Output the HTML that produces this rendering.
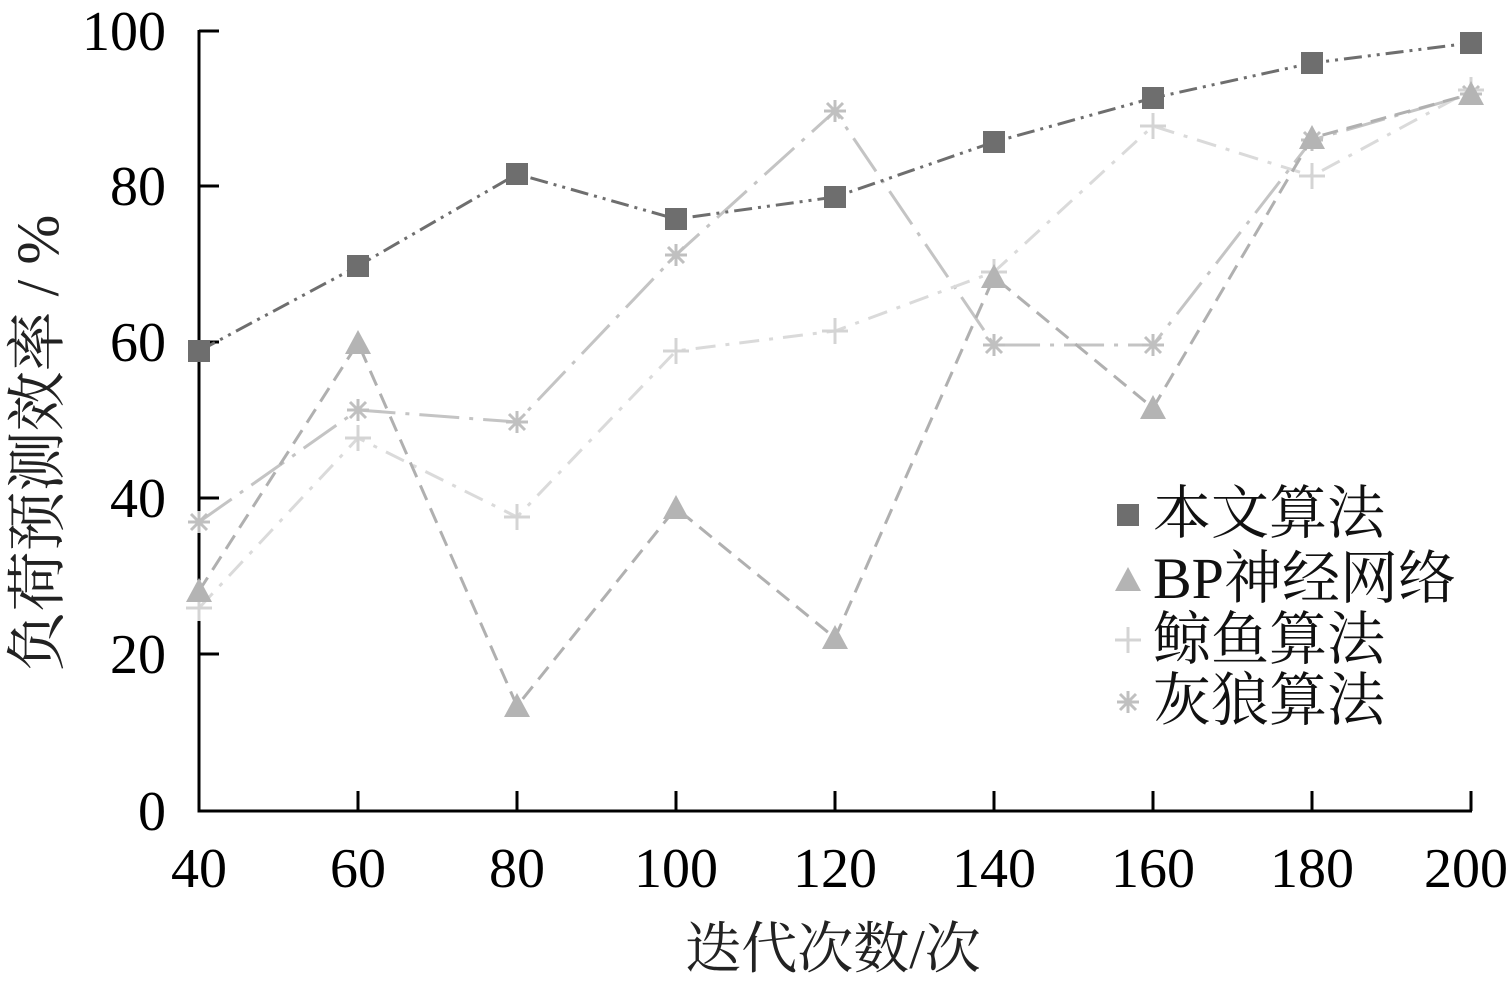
<!DOCTYPE html>
<html><head><meta charset="utf-8"><style>body{margin:0;background:#fff}</style></head><body>
<svg width="1512" height="989" xmlns="http://www.w3.org/2000/svg" font-family="'Liberation Serif','Noto Serif CJK SC',serif">
<defs>
<g id="s"><path d="M-11,0h22M0,-11v22M-8,-8l16,16M-8,8l16,-16"/></g>
<g id="p"><path d="M-13,0h26M0,-13v26"/></g>
<g id="t"><path d="M0,-13 L13,11 H-13Z"/></g>
<g id="q"><rect x="-11" y="-11" width="22" height="22"/></g>
</defs>
<rect width="1512" height="989" fill="#fff"/>
<g stroke="#000" stroke-width="3" fill="none">
<path d="M199,30 V811 H1472"/>
<path d="M199,31 h20 M199,186 h20 M199,342 h20 M199,498 h20 M199,654 h20"/>
<path d="M358,811 v-20 M517,811 v-20 M676,811 v-20 M835,811 v-20 M994,811 v-20 M1153,811 v-20 M1312,811 v-20 M1471,811 v-20"/>
</g>
<g font-size="56" text-anchor="end">
<text x="166" y="50">100</text><text x="166" y="205">80</text><text x="166" y="361">60</text><text x="166" y="517">40</text><text x="166" y="673">20</text><text x="166" y="830">0</text>
</g>
<g font-size="56" text-anchor="middle">
<text x="199" y="887">40</text><text x="358" y="887">60</text><text x="517" y="887">80</text><text x="676" y="887">100</text><text x="835" y="887">120</text><text x="994" y="887">140</text><text x="1153" y="887">160</text><text x="1312" y="887">180</text><text x="1466" y="887">200</text>
</g>
<text x="833" y="968" font-size="56" text-anchor="middle" fill="#222">迭代次数/次</text>
<text transform="translate(58,443) rotate(-90)" font-size="60" text-anchor="middle" fill="#222">负荷预测效率 / %</text>
<g fill="none" stroke-width="3">
<polyline stroke="#c4c4c4" stroke-dasharray="40,10,4,10" points="199,522 358,410 517,422 676,255 835,111 994,345 1153,345 1312,140 1471,94"/>
<polyline stroke="#dadada" stroke-dasharray="20,10,4,10" points="199,608 358,438 517,517 676,351 835,331 994,272 1153,126 1312,176 1471,90"/>
<polyline stroke="#b0b0b0" stroke-dasharray="16,9" points="199,591 358,343 517,706 676,508 835,638 994,277 1153,408 1312,138 1471,94"/>
<polyline stroke="#6e6e6e" stroke-dasharray="18,6,3,6,3,6" points="199,351 358,266 517,174 676,219 835,197 994,142 1153,98 1312,63 1471,43"/>
</g>
<g stroke="#c0c0c0" stroke-width="3">
<use href="#s" x="199" y="522"/><use href="#s" x="358" y="410"/><use href="#s" x="517" y="422"/><use href="#s" x="676" y="255"/><use href="#s" x="835" y="111"/><use href="#s" x="994" y="345"/><use href="#s" x="1153" y="345"/><use href="#s" x="1312" y="140"/><use href="#s" x="1471" y="94"/>
<use href="#s" x="1128" y="702"/>
</g>
<g stroke="#d4d4d4" stroke-width="3">
<use href="#p" x="199" y="608"/><use href="#p" x="358" y="438"/><use href="#p" x="517" y="517"/><use href="#p" x="676" y="351"/><use href="#p" x="835" y="331"/><use href="#p" x="994" y="272"/><use href="#p" x="1153" y="126"/><use href="#p" x="1312" y="176"/><use href="#p" x="1471" y="90"/>
<use href="#p" x="1128" y="640"/>
</g>
<g fill="#b4b4b4">
<use href="#t" x="199" y="591"/><use href="#t" x="358" y="343"/><use href="#t" x="517" y="706"/><use href="#t" x="676" y="508"/><use href="#t" x="835" y="638"/><use href="#t" x="994" y="277"/><use href="#t" x="1153" y="408"/><use href="#t" x="1312" y="138"/><use href="#t" x="1471" y="94"/>
<use href="#t" x="1128" y="580"/>
</g>
<g fill="#6e6e6e">
<use href="#q" x="199" y="351"/><use href="#q" x="358" y="266"/><use href="#q" x="517" y="174"/><use href="#q" x="676" y="219"/><use href="#q" x="835" y="197"/><use href="#q" x="994" y="142"/><use href="#q" x="1153" y="98"/><use href="#q" x="1312" y="63"/><use href="#q" x="1471" y="43"/>
<use href="#q" x="1128" y="515"/>
</g>
<g font-size="58" fill="#111">
<text x="1153" y="533">本文算法</text>
<text x="1153" y="598">BP神经网络</text>
<text x="1153" y="659">鲸鱼算法</text>
<text x="1153" y="720">灰狼算法</text>
</g>
</svg>
</body></html>
